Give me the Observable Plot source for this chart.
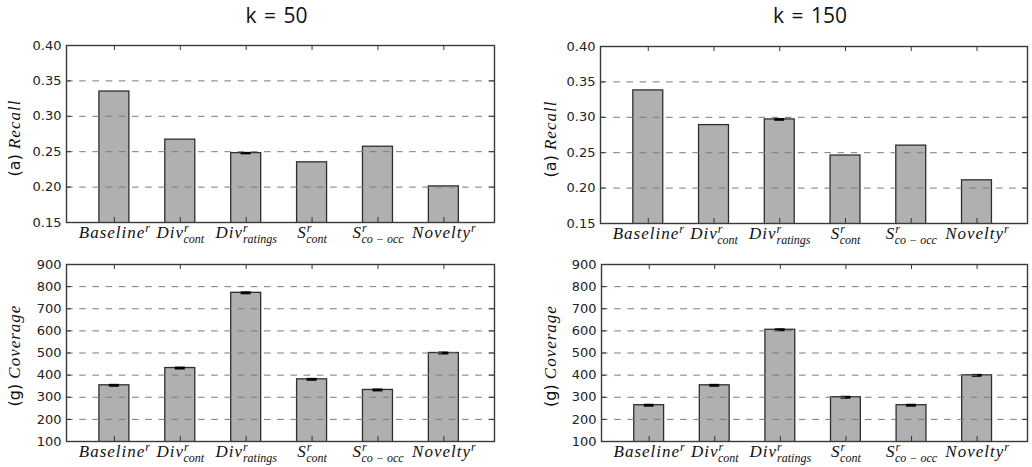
<!DOCTYPE html>
<html>
<head>
<meta charset="utf-8">
<script src="https://cdn.jsdelivr.net/npm/d3@7"></script>
<script src="https://cdn.jsdelivr.net/npm/@observablehq/plot@0.6"></script>
<style>
  body { margin: 0; background: #fff; }
  #fig { position: relative; width: 1032px; height: 467px; overflow: hidden; background: #fff; }
  .panel { position: absolute; }
  .panel svg { overflow: visible; display: block; }
  .title { position: absolute; font-family: "Open Sans", sans-serif; font-size: 21px; line-height: 21px;
           color: #111; transform: translateX(-50%); white-space: nowrap; word-spacing: 2px; }
</style>
</head>
<body>
<div id="fig"></div>
<script>
// Recommendation methods (x categories) and their math-style labels
const methods = ["Baseline", "Div_cont", "Div_ratings", "S_cont", "S_co-occ", "Novelty"];
const labelBase = ["Baseline", "Div", "Div", "S", "S", "Novelty"];
const labelSub = ["", "cont", "ratings", "cont", "co \u2212 occ", ""];
const labelSup = "r";

// Column headings
const kValues = [50, 150];

// (a) Recall
const recallK50 = [0.335, 0.267, 0.248, 0.235, 0.257, 0.201];
const recallK150 = [0.338, 0.289, 0.297, 0.246, 0.260, 0.211];
const recallErrK50 = [0, 0, 0.0006, 0, 0, 0];
const recallErrK150 = [0, 0, 0.0008, 0, 0, 0];
const recallTicks = [0.15, 0.20, 0.25, 0.30, 0.35, 0.40];

// (g) Coverage
const coverageK50 = [354, 432, 772, 381, 333, 500];
const coverageK150 = [264, 354, 605, 300, 264, 399];
const coverageErrK50 = [3, 3, 3, 3, 3, 3];
const coverageErrK150 = [3, 3, 3, 3, 3, 3];
const coverageTicks = [100, 200, 300, 400, 500, 600, 700, 800, 900];

const fig = document.getElementById("fig");

function panel({values, errs, ticks, format, prefix, name, left, top, width, height,
                margin, labelX, labelY}) {
  const rows = methods.map((m, i) => ({method: m, value: values[i], err: errs[i]}));
  const errRows = rows.filter(d => d.err > 0);
  const [mt, mr, mb, ml] = margin;
  const iw = width - ml - mr;
  const ih = height - mt - mb;
  const inner = ticks.slice(1, -1);
  const tick = 5;

  const chart = Plot.plot({
    width, height,
    marginTop: mt, marginRight: mr, marginBottom: mb, marginLeft: ml,
    style: {fontFamily: "'DejaVu Sans', sans-serif", fontSize: "13px", color: "#222", background: "transparent"},
    x: {type: "band", domain: methods, paddingInner: 0.545, paddingOuter: 0.52, align: 0.48, round: false},
    y: {domain: [ticks[0], ticks[ticks.length - 1]]},
    marks: [
      Plot.barY(rows, {x: "method", y: "value", fill: "#b0b0b0", stroke: "#2e2e2e", strokeWidth: 1.3, clip: true}),
      Plot.ruleX(errRows, {x: "method", y1: d => d.value - d.err, y2: d => d.value + d.err, stroke: "#000", strokeWidth: 1.5}),
      Plot.tickY(errRows, {x: "method", y: d => d.value + d.err, insetLeft: 10, insetRight: 10, stroke: "#000", strokeWidth: 1.6}),
      Plot.tickY(errRows, {x: "method", y: d => d.value - d.err, insetLeft: 10, insetRight: 10, stroke: "#000", strokeWidth: 1.6}),
      Plot.ruleY(inner, {y: d => d, stroke: "#7a7a7a", strokeWidth: 1, strokeDasharray: "6.6,6.6"}),
      // inward ticks on all four sides
      Plot.tickY(ticks, {y: d => d, insetRight: iw - tick, stroke: "#333", strokeWidth: 1}),
      Plot.tickY(ticks, {y: d => d, insetLeft: iw - tick, stroke: "#333", strokeWidth: 1}),
      Plot.tickX(methods, {x: d => d, insetTop: ih - tick, stroke: "#333", strokeWidth: 1}),
      Plot.tickX(methods, {x: d => d, insetBottom: ih - tick, stroke: "#333", strokeWidth: 1}),
      Plot.frame({stroke: "#3a3a3a", strokeWidth: 1.4}),
      Plot.axisY({ticks, tickSize: 0, tickPadding: 5, tickFormat: format, label: null}),
      Plot.axisX({tickSize: 0, tickPadding: 0, label: null, tickFormat: d => d})
    ]
  });

  // x tick labels: italic base with superscript r and subscript
  d3.select(chart).selectAll('g[aria-label="x-axis tick label"] text').each(function() {
    const t = d3.select(this);
    const i = methods.indexOf(this.textContent.trim());
    if (i < 0) return;
    t.text(null)
      .attr("dy", 6)
      .attr("font-family", "'Liberation Serif', serif")
      .attr("font-style", "italic")
      .attr("fill", "#111")
      .attr("text-anchor", "middle");
    t.append("tspan").attr("font-size", 17).attr("letter-spacing", 1).text(labelBase[i]);
    t.append("tspan").attr("font-size", 12).attr("dy", -6).text(labelSup);
    if (labelSub[i]) {
      t.append("tspan").attr("font-size", 12).attr("dx", -4.7).attr("dy", 11).text(labelSub[i]);
    }
  });

  // rotated y label: "(x) Name"
  const lab = d3.select(chart).append("text")
    .attr("transform", `translate(${labelX},${labelY}) rotate(-90)`)
    .attr("text-anchor", "middle")
    .attr("fill", "#111");
  lab.append("tspan").attr("font-family", "'DejaVu Sans', sans-serif").attr("font-size", 16).text(prefix + " ");
  lab.append("tspan").attr("font-family", "'Liberation Serif', serif").attr("font-style", "italic")
    .attr("font-size", 17).attr("letter-spacing", 1).text(name);

  const div = document.createElement("div");
  div.className = "panel";
  div.style.left = left + "px";
  div.style.top = top + "px";
  div.appendChild(chart);
  fig.appendChild(div);
}

const fmt2 = d3.format(".2f");
const fmt0 = d3.format("d");

panel({values: recallK50, errs: recallErrK50, ticks: recallTicks, format: fmt2, prefix: "(a)", name: "Recall",
       left: 0, top: 0, width: 516, height: 240, margin: [45, 22, 18, 66], labelX: 20, labelY: 138});
panel({values: recallK150, errs: recallErrK150, ticks: recallTicks, format: fmt2, prefix: "(a)", name: "Recall",
       left: 516, top: 0, width: 516, height: 240, margin: [46, 5, 17, 84], labelX: 39.5, labelY: 139});
panel({values: coverageK50, errs: coverageErrK50, ticks: coverageTicks, format: fmt0, prefix: "(g)", name: "Coverage",
       left: 0, top: 240, width: 516, height: 227, margin: [24, 22, 26, 66], labelX: 20, labelY: 115.5});
panel({values: coverageK150, errs: coverageErrK150, ticks: coverageTicks, format: fmt0, prefix: "(g)", name: "Coverage",
       left: 516, top: 240, width: 516, height: 227, margin: [24, 5, 26, 85], labelX: 40, labelY: 116});

// column headings
[276.5, 810].forEach((cx, i) => {
  const t = document.createElement("div");
  t.className = "title";
  t.style.left = cx + "px";
  t.style.top = "5px";
  t.textContent = `k = ${kValues[i]}`;
  fig.appendChild(t);
});
</script>
</body>
</html>
